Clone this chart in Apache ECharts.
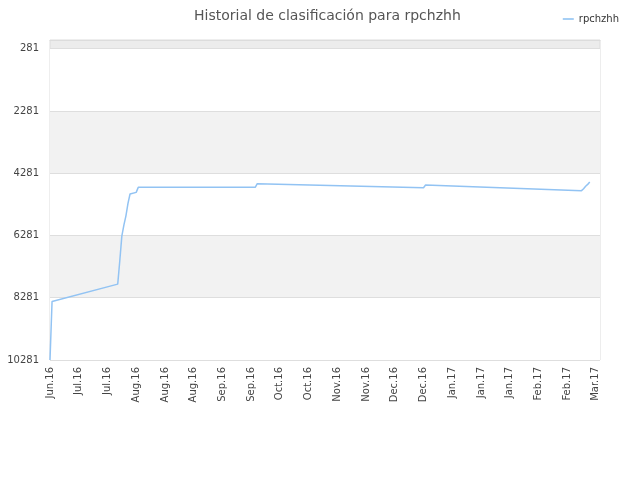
<!DOCTYPE html>
<html>
<head>
<meta charset="utf-8">
<script src="https://cdn.jsdelivr.net/npm/echarts@6/dist/echarts.min.js"></script>
<style>
  html, body { margin: 0; padding: 0; background: #fff; }
  #chart { width: 640px; height: 480px; }
</style>
</head>
<body>
<div id="chart"></div>
<script>
// etiquetas del eje x (una cada 14 dias, dia 0 = 20 jun 2016)
var tickLabels = ['Jun.16', 'Jul.16', 'Jul.16', 'Aug.16', 'Aug.16', 'Aug.16', 'Sep.16', 'Sep.16',
    'Oct.16', 'Oct.16', 'Nov.16', 'Nov.16', 'Dec.16', 'Dec.16', 'Jan.17', 'Jan.17', 'Jan.17',
    'Feb.17', 'Feb.17', 'Mar.17'];
var rankTicks = [281, 2281, 4281, 6281, 8281, 10281];

// dias y posicion de rpchzhh
var days  = [0, 1, 33, 34, 35, 36, 37, 38, 39, 42, 43, 100, 101, 182, 183, 259, 260, 261, 262, 263];
var ranks = [10281, 8404, 7844, 7100, 6300, 5950, 5650, 5250, 4947, 4895, 4734, 4734, 4615, 4745,
    4657, 4840, 4780, 4700, 4640, 4561];

var seriesData = [];
days.forEach(function(d, i){
    seriesData.push([d, ranks[i]]);
});

var myChart = echarts.init(document.getElementById('chart'));
var option = {
    animation: false,
    title: {
        text: 'Historial de clasificación para rpchzhh',
        left: 189,
        top: 4,
        textStyle: { fontFamily: 'DejaVu Sans', fontSize: 14, fontWeight: 'normal', color: '#555' }
    },
    legend: {
        right: 16,
        top: 9,
        itemWidth: 11,
        itemHeight: 2,
        itemGap: 8,
        textStyle: { fontFamily: 'DejaVu Sans', fontSize: 10, color: '#333' },
        data: [{ name: 'rpchzhh', icon: 'rect' }]
    },
    grid: {
        left: 50, right: 40, top: 40, bottom: 120,
        show: true,
        backgroundColor: '#ececec',
        borderColor: '#dcdcdc',
        borderWidth: 1
    },
    xAxis: {
        type: 'value',
        min: 0,
        max: 268,
        interval: 14,
        axisLine: { show: true, lineStyle: { color: '#dcdcdc' } },
        axisTick: { show: false },
        splitLine: { show: false },
        axisLabel: {
            rotate: 90,
            margin: 7,
            fontFamily: 'DejaVu Sans',
            fontSize: 10,
            color: '#444',
            showMaxLabel: false,
            formatter: function(v){
                if (v % 14 !== 0) return '';
                return tickLabels[v / 14] || '';
            }
        }
    },
    yAxis: {
        type: 'value',
        inverse: true,
        min: 0,
        max: 10281,
        axisLine: { show: false },
        axisTick: { show: false, customValues: rankTicks },
        axisLabel: {
            customValues: rankTicks,
            margin: 11,
            fontFamily: 'DejaVu Sans',
            fontSize: 10,
            color: '#444',
            formatter: function(v){ return String(v); }
        },
        splitLine: { show: true, lineStyle: { color: '#dedede' } },
        splitArea: { show: true, areaStyle: { color: ['#ffffff', '#f2f2f2'] } }
    },
    series: [{
        name: 'rpchzhh',
        type: 'line',
        symbol: 'none',
        data: seriesData,
        lineStyle: { color: '#92c3f3', width: 1.5 },
        itemStyle: { color: '#a6cff5' }
    }]
};
myChart.setOption(option);
</script>
</body>
</html>
